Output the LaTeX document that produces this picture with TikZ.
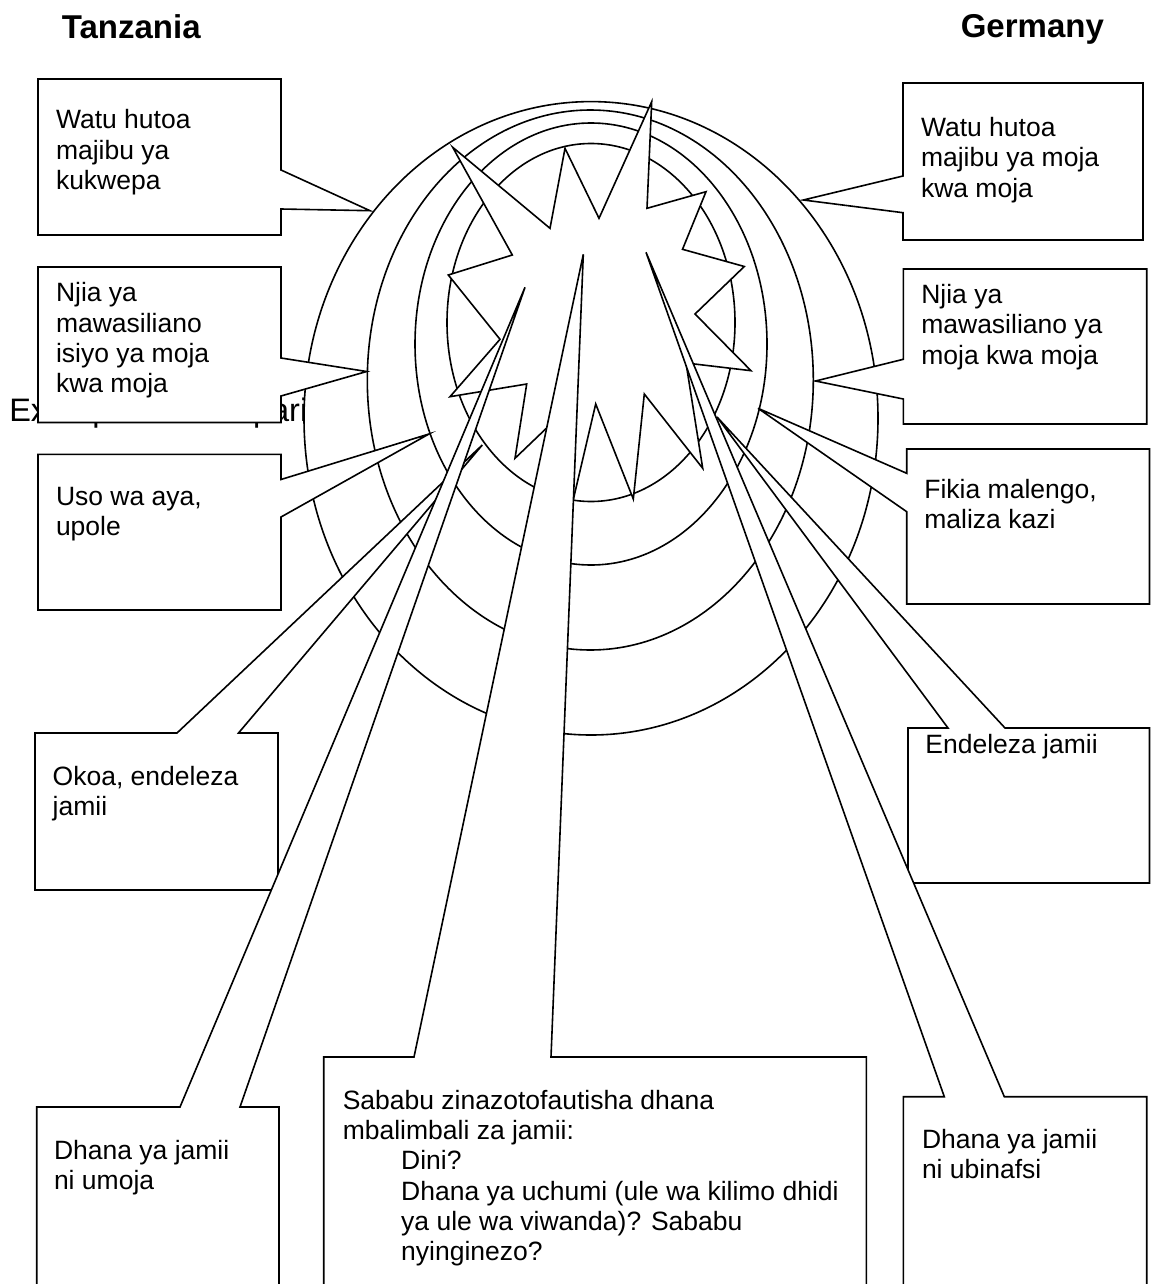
\documentclass[tikz,border=0pt]{standalone}
\usepackage{fontspec}
\setmainfont{Liberation Sans}
\newcommand{\flstrut}{\rule{0pt}{20pt}}
\newcommand{\indentsp}{\hspace*{58.4pt}}
\begin{document}
\begin{tikzpicture}[x=1pt,y=-1pt]
\tikzset{
  shapeline/.style={draw=black,fill=white,line width=1.6pt,line join=miter},
  bodytext/.style={font=\fontsize{26.5}{30.3}\selectfont,align=left,anchor=north west,inner sep=0pt,outer sep=0pt},
  headtext/.style={font=\fontsize{33}{39}\selectfont\bfseries,anchor=base west,inner sep=0pt},
  bgtext/.style={font=\fontsize{32.5}{39}\selectfont,anchor=base west,inner sep=0pt},
}
\useasboundingbox (0,0) rectangle (1151,1284);
\clip (0,0) rectangle (1151,1284);
\fill[white] (0,0) rectangle (1151,1284);

% headers
\node[headtext] (hT) at (61.7,38.3) {Tanzania};
\node[headtext] (hG) at (960.6,38) {Germany};

% background text (mostly hidden)
\node[bgtext] (bg) at (9.1,421.7) {Example for comparison};

% concentric ellipses
\draw[shapeline] (591,418.3) ellipse [x radius=287, y radius=316.7];
\draw[shapeline] (590.3,380) ellipse [x radius=223, y radius=270];
\draw[shapeline] (591,344) ellipse [x radius=176, y radius=221];
\draw[shapeline] (591,322.5) ellipse [x radius=144, y radius=179];

% explosion star
\draw[shapeline] (651.7,101.7) -- (647,208.3) -- (706,191.7) -- (682.5,249.3)
  -- (744.3,266.5) -- (695,314) -- (751,370.7) -- (686,363) -- (702.7,468.3)
  -- (644.3,394) -- (633.3,499) -- (595.7,404) -- (572,505) -- (555,420)
  -- (515,458.3) -- (526.7,384) -- (450,396.7) -- (500,339.3) -- (448.3,275)
  -- (512.3,255) -- (452.7,147.3) -- (550,228.3) -- (565,148.3) -- (599,218.3) -- cycle;

% callouts, left column
\draw[shapeline] (38,79) -- (281,79) -- (281,170) -- (370,210.7) -- (281,209) -- (281,235) -- (38,235) -- cycle;
\draw[shapeline] (38,267) -- (281,267) -- (281,358) -- (366.7,371.5) -- (281,396) -- (281,422.5) -- (38,422.5) -- cycle;
\draw[shapeline] (38,454.3) -- (281,454.3) -- (281,479.5) -- (429,434) -- (281,517) -- (281,610) -- (38,610) -- cycle;

% callouts, right column
\draw[shapeline] (903,83) -- (1143,83) -- (1143,240) -- (903,240) -- (903,212.7) -- (803.3,200) -- (903,176) -- cycle;
\draw[shapeline] (903.3,269) -- (1146.7,269) -- (1146.7,424) -- (903.3,424) -- (903.3,399) -- (815.5,381) -- (903.3,359.3) -- cycle;
\draw[shapeline] (906.7,449) -- (1149.5,449) -- (1149.5,604) -- (906.7,604) -- (906.7,511.7) -- (758,408.3) -- (906.7,473.3) -- cycle;

% lower callouts
\draw[shapeline] (35,733) -- (177,733) -- (482.3,445) -- (238.5,733) -- (278,733) -- (278,890) -- (35,890) -- cycle;
\draw[shapeline] (908,728) -- (948,728) -- (717,417) -- (1005,728) -- (1149.5,728) -- (1149.5,883) -- (908,883) -- cycle;
\draw[shapeline] (36.7,1107) -- (180,1107) -- (525,287.3) -- (240,1107) -- (279,1107) -- (279,1300) -- (36.7,1300) -- cycle;
\draw[shapeline] (903.3,1096.7) -- (944.3,1096.7) -- (646,252.3) -- (1004.3,1096.7) -- (1146.7,1096.7) -- (1146.7,1300) -- (903.3,1300) -- cycle;
\draw[shapeline] (323.7,1057) -- (414,1057) -- (583.3,254.3) -- (551,1057) -- (866.4,1057) -- (866.4,1300) -- (323.7,1300) -- cycle;

% texts
\node[bodytext] (tL1) at (56,109) {\flstrut Watu hutoa\\majibu ya\\kukwepa};
\node[bodytext] (tL2) at (56,281.7) {\flstrut Njia ya\\mawasiliano\\isiyo ya moja\\kwa moja};
\node[bodytext] (tL3) at (56,485) {\flstrut Uso wa aya,\\upole};
\node[bodytext] (tL4) at (52.7,765) {\flstrut Okoa, endeleza\\jamii};
\node[bodytext] (tL5) at (54,1139.3) {\flstrut Dhana ya jamii\\ni umoja};
\node[bodytext] (tR1) at (921,116.5) {\flstrut Watu hutoa\\majibu ya moja\\kwa moja};
\node[bodytext] (tR2) at (921.3,283.5) {\flstrut Njia ya\\mawasiliano ya\\moja kwa moja};
\node[bodytext] (tR3) at (924.4,478.3) {\flstrut Fikia malengo,\\maliza kazi};
\node[bodytext] (tR4) at (925.4,733) {\flstrut Endeleza jamii};
\node[bodytext] (tR5) at (922,1128.3) {\flstrut Dhana ya jamii\\ni ubinafsi};
\node[bodytext] (tC) at (342.8,1089.3) {\flstrut Sababu zinazotofautisha dhana\\mbalimbali za jamii:\\\indentsp Dini?\\\indentsp Dhana ya uchumi (ule wa kilimo dhidi\\\indentsp ya ule wa viwanda)? Sababu\\\indentsp nyinginezo?};
\end{tikzpicture}
\end{document}
